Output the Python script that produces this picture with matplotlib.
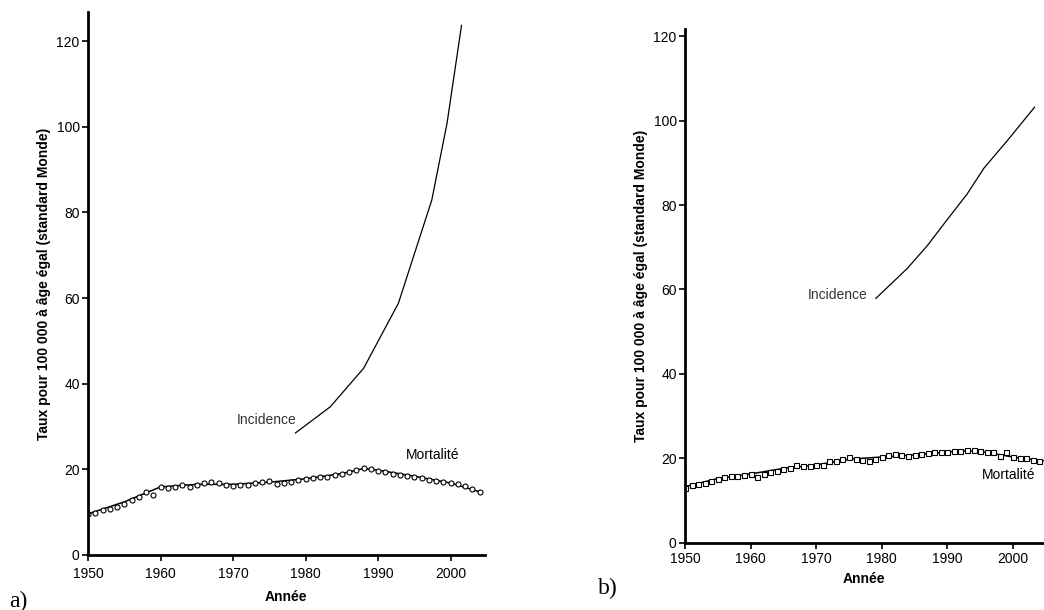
import matplotlib
matplotlib.use("Agg")
import matplotlib.pyplot as plt

plt.rcParams['font.family'] = ['Liberation Sans Narrow', 'Liberation Sans', 'DejaVu Sans']

# ---------------- data ----------------
years = list(range(1950, 2005))

# panel a : incidence (line) and mortality (observed + fitted)
inc_a_years = [1978.6, 1983.4, 1988.0, 1992.8, 1997.4, 1999.5, 2001.5]
inc_a_vals = [28.5, 34.6, 43.6, 58.8, 82.9, 100.8, 123.7]

mort_a_obs = [9.5, 9.8, 10.4, 10.8, 11.3, 12.0, 12.8, 13.5, 14.6, 14.0,
              15.8, 15.6, 15.8, 16.3, 15.9, 16.3, 16.7, 17.0, 16.9, 16.4,
              16.2, 16.3, 16.4, 16.8, 17.0, 17.2, 16.6, 16.7, 17.1, 17.4,
              17.7, 18.0, 18.2, 18.3, 18.7, 19.0, 19.4, 19.9, 20.2, 20.0,
              19.6, 19.3, 19.0, 18.7, 18.5, 18.3, 18.0, 17.6, 17.3, 17.0,
              16.8, 16.6, 16.2, 15.5, 14.6]
fit_a_years = [1950, 1955, 1960, 1965, 1970, 1975, 1980, 1985, 1988, 1990, 1995, 2000, 2004.3]
fit_a_vals = [9.6, 12.4, 15.9, 16.5, 16.5, 17.0, 17.8, 19.0, 20.2, 19.8, 18.4, 16.8, 14.6]

# panel b
inc_b_years = [1979.1, 1983.9, 1987.0, 1989.7, 1993.0, 1995.6, 1999.1, 2003.3]
inc_b_vals = [57.9, 65.0, 70.5, 76.0, 82.6, 88.8, 95.2, 103.2]

mort_b_obs = [13.0, 13.6, 13.9, 14.2, 14.6, 15.0, 15.6, 15.7, 15.9, 16.1,
              16.4, 15.5, 16.4, 16.8, 17.1, 17.5, 17.8, 18.4, 18.2, 18.1,
              18.3, 18.5, 19.3, 19.4, 19.8, 20.3, 19.8, 19.5, 19.3, 19.8,
              20.3, 20.8, 21.0, 20.9, 20.6, 20.8, 21.0, 21.2, 21.4, 21.5,
              21.6, 21.7, 21.8, 22.0, 21.9, 21.7, 21.5, 21.4, 20.6, 21.6,
              20.3, 20.1, 20.0, 19.7, 19.4]
fit_b_years = [1950, 1955, 1960, 1965, 1970, 1975, 1980, 1985, 1990, 1993, 1996, 2000, 2004.6]
fit_b_vals = [13.3, 15.2, 16.3, 17.6, 18.4, 19.8, 20.3, 20.8, 21.5, 21.8, 21.4, 20.3, 19.4]

xticks = [1950, 1960, 1970, 1980, 1990, 2000]
yticks = [0, 20, 40, 60, 80, 100, 120]
ylabel = "Taux pour 100 000 à âge égal (standard Monde)"
xlabel = "Année"

# ---------------- figure ----------------
fig = plt.figure(figsize=(10.44, 6.10), dpi=100)
axa = fig.add_axes([0.0843, 0.0902, 0.380, 0.890])
axb = fig.add_axes([0.6561, 0.1103, 0.3437, 0.842])


def style(ax, ytop, xpad, xlabelpad):
    ax.set_xlim(1950, 2004.7)
    ax.set_ylim(0, ytop)
    for s in ['top', 'right']:
        ax.spines[s].set_visible(False)
    for s in ['left', 'bottom']:
        ax.spines[s].set_linewidth(2.0)
    ax.set_xticks(xticks)
    ax.set_yticks(yticks)
    ax.tick_params(direction='out', length=4, width=1.2, labelsize=10, pad=2)
    ax.tick_params(axis='x', pad=xpad)
    ax.set_ylabel(ylabel, fontsize=10, fontweight='bold', labelpad=4)
    ax.set_xlabel(xlabel, fontsize=10, fontweight='bold', labelpad=xlabelpad)


style(axa, 126.8, 5, 6)
axa.plot(inc_a_years, inc_a_vals, color='black', lw=0.9)
axa.plot(fit_a_years, fit_a_vals, color='black', lw=1.1)
axa.plot(years, mort_a_obs, linestyle='none', marker='o', ms=3.6,
         mfc='white', mec='black', mew=0.8)
axa.text(1974.6, 31.5, "Incidence", fontsize=10, ha='center', va='center', color='#333333')
axa.text(1997.5, 23.3, "Mortalité", fontsize=10, ha='center', va='center')

style(axb, 121.7, 3, 4)
axb.plot(inc_b_years, inc_b_vals, color='black', lw=0.9)
axb.plot(fit_b_years, fit_b_vals, color='black', lw=1.1)
axb.plot(years, mort_b_obs, linestyle='none', marker='s', ms=3.6,
         mfc='white', mec='black', mew=0.8)
axb.text(1973.3, 58.8, "Incidence", fontsize=10, ha='center', va='center', color='#333333')
axb.text(1999.4, 16.1, "Mortalité", fontsize=10, ha='center', va='center')

fig.text(18 / 1044, 1 - 601 / 610, "a)", fontsize=17, family='Liberation Serif',
         ha='center', va='center')
fig.text(608 / 1044, 1 - 588 / 610, "b)", fontsize=17, family='Liberation Serif',
         ha='center', va='center')

fig.savefig("out.png", dpi=100)
